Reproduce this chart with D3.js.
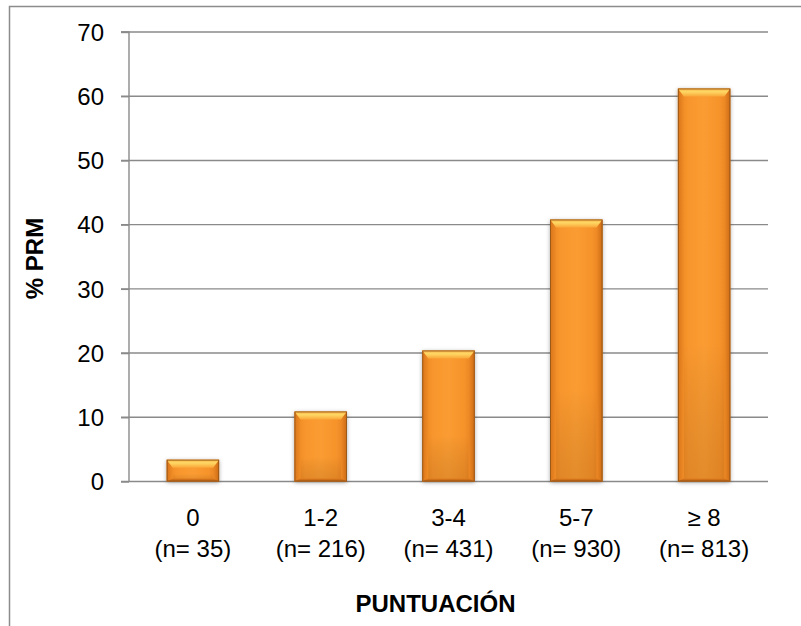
<!DOCTYPE html>
<html>
<head>
<meta charset="utf-8">
<script src="https://cdn.jsdelivr.net/npm/d3@7"></script>
<style>
  html, body { margin: 0; padding: 0; background: #fff; }
  svg { display: block; font-family: "Liberation Sans", Arial, sans-serif; }
</style>
</head>
<body>
<svg id="chart" width="801" height="626"></svg>
<script>
// Score groups, sample sizes and % PRM per group
const categories = ["0", "1-2", "3-4", "5-7", "≥ 8"];
const sampleSizes = [35, 216, 431, 930, 813];
const prmPercent = [3.4, 10.9, 20.4, 40.8, 61.2];
const yTicks = [0, 10, 20, 30, 40, 50, 60, 70];

const data = categories.map((c, i) => ({ cat: c, n: sampleSizes[i], v: prmPercent[i] }));

const svg = d3.select("#chart");
const plot = { left: 129, right: 768, top: 32, bottom: 481.5 };
const gridColor = "#8a8a8a";

// Outer chart frame
svg.append("path")
  .attr("d", "M9.5,640 L9.5,6.5 L820,6.5")
  .attr("fill", "none").attr("stroke", "#8c8c8c").attr("stroke-width", 1.5);

const x = d3.scaleBand().domain(categories).range([plot.left, plot.right])
  .paddingInner(0.59).paddingOuter(0.295);
const y = d3.scaleLinear().domain([0, 70]).range([plot.bottom, plot.top]);

// Defs: gradients and shadow for the bevelled bars
const defs = svg.append("defs");
const addGrad = (id, horiz, stops) => {
  const g = defs.append("linearGradient").attr("id", id)
    .attr("x1", 0).attr("y1", 0).attr("x2", horiz ? 1 : 0).attr("y2", horiz ? 0 : 1);
  stops.forEach(([o, c, a]) => g.append("stop").attr("offset", o).attr("stop-color", c)
    .attr("stop-opacity", a === undefined ? 1 : a));
};
addGrad("barBody", true, [["0%", "#ea841f"], ["20%", "#f8962d"], ["50%", "#fa9c31"], ["80%", "#f6932b"], ["100%", "#e47d1d"]]);
addGrad("barShade", false, [["0%", "#ffffff", 0], ["65%", "#000000", 0], ["100%", "#5a2a00", 0.14]]);
addGrad("topBevel", false, [["0%", "#f8b145"], ["40%", "#fed865"], ["100%", "#faa739"]]);
addGrad("sideL", true, [["0%", "#d97419"], ["100%", "#f08d27"]]);
addGrad("sideR", true, [["0%", "#ee8a25"], ["100%", "#cd6b15"]]);
addGrad("bottomBevel", false, [["0%", "#dd7a1c"], ["100%", "#b85f14"]]);
const shadow = defs.append("filter").attr("id", "shadow")
  .attr("x", "-30%").attr("y", "-30%").attr("width", "160%").attr("height", "160%");
shadow.append("feDropShadow").attr("dx", 0).attr("dy", 1).attr("stdDeviation", 2)
  .attr("flood-color", "#000").attr("flood-opacity", 0.35);

// Horizontal gridlines
svg.append("g").selectAll("line").data(yTicks).join("line")
  .attr("x1", plot.left - 8).attr("x2", plot.right)
  .attr("y1", d => y(d)).attr("y2", d => y(d))
  .attr("stroke", gridColor).attr("stroke-width", 1.4);

// Y axis with tick labels
const yAxis = svg.append("g").attr("transform", `translate(${plot.left},0)`)
  .call(d3.axisLeft(y).tickValues(yTicks).tickSize(8).tickPadding(17).tickFormat(d3.format("d")));
yAxis.select(".domain").attr("stroke", gridColor).attr("stroke-width", 1.4).attr("d", `M-8,${plot.top}H0V${plot.bottom}`);
yAxis.selectAll(".tick line").attr("stroke", gridColor).attr("stroke-width", 1.4);
yAxis.selectAll(".tick text").attr("font-size", 24).attr("fill", "#000")
  .attr("font-family", "'Liberation Sans', Arial, sans-serif").attr("dy", "0.34em");

// Bevelled bars
const bev = 8, side = 6, foot = 3;
const bars = svg.append("g").selectAll("g").data(data).join("g")
  .attr("transform", d => `translate(${x(d.cat)},${y(d.v)})`);
bars.each(function (d) {
  const g = d3.select(this);
  const w = x.bandwidth(), h = y(0) - y(d.v);
  const b = Math.min(bev, h * 0.38);
  g.append("rect").attr("width", w).attr("height", h).attr("fill", "url(#barBody)").attr("filter", "url(#shadow)");
  g.append("rect").attr("width", w).attr("height", h).attr("fill", "url(#barShade)");
  g.append("polygon").attr("points", `0,0 ${side},${b} ${side},${h - foot} 0,${h}`).attr("fill", "url(#sideL)");
  g.append("polygon").attr("points", `${w},0 ${w - side},${b} ${w - side},${h - foot} ${w},${h}`).attr("fill", "url(#sideR)");
  g.append("polygon").attr("points", `0,${h} ${side},${h - foot} ${w - side},${h - foot} ${w},${h}`).attr("fill", "url(#bottomBevel)");
  g.append("polygon").attr("points", `0,0 ${w},0 ${w - side},${b} ${side},${b}`).attr("fill", "url(#topBevel)");
  g.append("rect").attr("x", 0.45).attr("y", 0.45).attr("width", w - 0.9).attr("height", h - 0.9)
    .attr("fill", "none").attr("stroke", "#95581b").attr("stroke-width", 0.9);
});

// Category labels with sample sizes
const labels = svg.append("g").selectAll("text").data(data).join("text")
  .attr("text-anchor", "middle").attr("font-size", 24).attr("fill", "#000");
labels.append("tspan").attr("x", d => x(d.cat) + x.bandwidth() / 2).attr("y", 526).text(d => d.cat);
labels.append("tspan").attr("x", d => x(d.cat) + x.bandwidth() / 2).attr("y", 557).text(d => `(n= ${d.n})`);

// Axis titles
svg.append("text").attr("x", 435.5).attr("y", 612).attr("text-anchor", "middle")
  .attr("font-size", 24).attr("font-weight", "bold").text("PUNTUACIÓN");
svg.append("text").attr("transform", "translate(42.5,258.5) rotate(-90)").attr("text-anchor", "middle")
  .attr("font-size", 24).attr("font-weight", "bold").text("% PRM");
</script>
</body>
</html>
